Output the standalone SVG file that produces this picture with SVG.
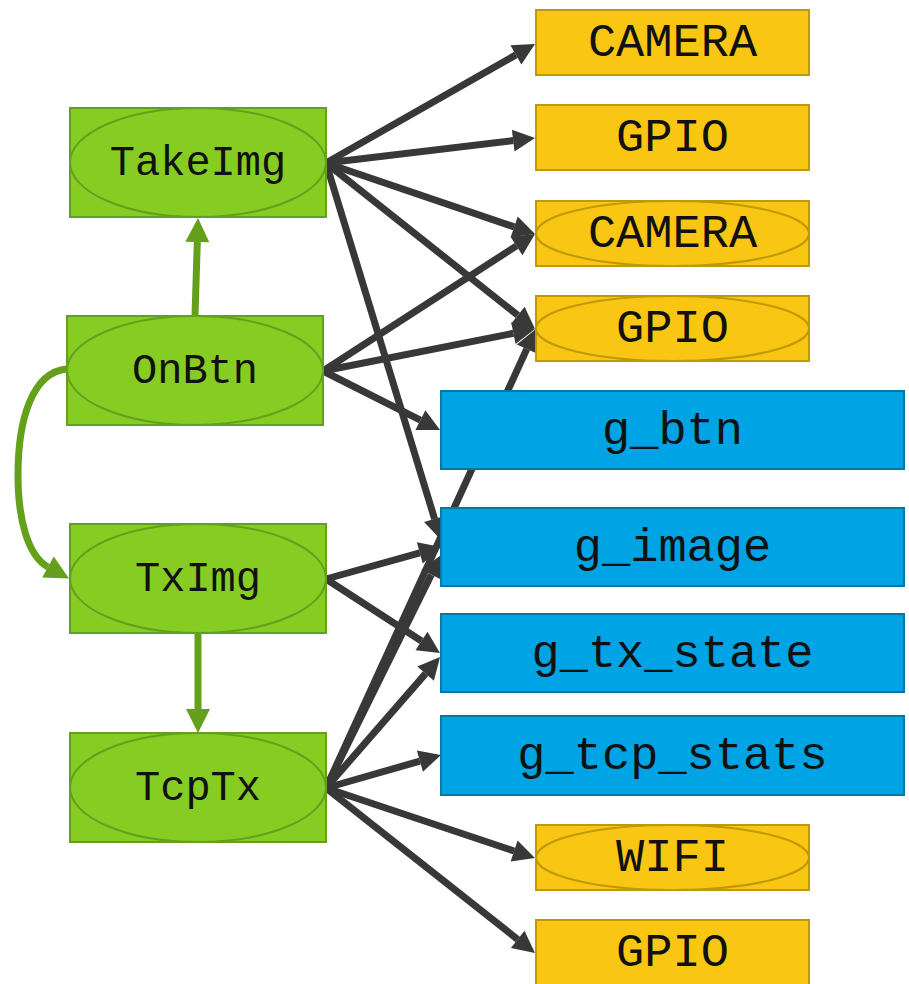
<svg xmlns="http://www.w3.org/2000/svg" width="909" height="984" viewBox="0 0 909 984">
  <style>
    .lbl { font-family: "Liberation Mono", "Courier New", monospace; fill: #111; text-anchor: middle; }
    .g-lbl { font-size: 42px; }
    .o-lbl { font-size: 47px; }
    .task rect, .task ellipse { fill: #86cc22; stroke: #64a01c; stroke-width: 2; }
    .dev rect, .dev ellipse { fill: #f9c613; stroke: #bf9a06; stroke-width: 2; }
    .var rect { fill: #00a3e3; stroke: #0079a8; stroke-width: 2; }
    .e-dark { fill: none; stroke: #383838; stroke-width: 7; marker-end: url(#ah-dark); }
    .e-green { fill: none; stroke: #64a01c; stroke-width: 7; marker-end: url(#ah-green); }
  </style>
  <defs>
    <marker id="ah-dark" markerUnits="userSpaceOnUse" markerWidth="24" markerHeight="24" refX="0" refY="12" orient="auto" overflow="visible">
      <path d="M0,1 L22,12 L0,23 z" fill="#383838"/>
    </marker>
    <marker id="ah-green" markerUnits="userSpaceOnUse" markerWidth="26" markerHeight="26" refX="0" refY="12" orient="auto" overflow="visible">
      <path d="M0,0 L24,12 L0,24 z" fill="#64a01c"/>
    </marker>
  </defs>

  <g id="connectors">
    <!-- TakeImg -->
    <path class="e-dark" d="M326,163 L515.9,54.9"/>
    <path class="e-dark" d="M326,163 L513.2,140.6"/>
    <path class="e-dark" d="M326,163 L514.2,226.9"/>
    <path class="e-dark" d="M326,163 L517.8,315.3"/>
    <path class="e-dark" d="M326,163 L434.6,518.9"/>
    <!-- OnBtn -->
    <path class="e-dark" d="M323,371 L516.5,245.9"/>
    <path class="e-dark" d="M323,371 L513.4,333.3"/>
    <path class="e-dark" d="M323,371 L420.4,420.1"/>
    <!-- TxImg -->
    <path class="e-dark" d="M326,579 L419.8,552.9"/>
    <path class="e-dark" d="M326,579 L421.5,641.0"/>
    <!-- TcpTx -->
    <path class="e-dark" d="M326,788 L431.3,574.7"/>
    <path class="e-dark" d="M326,788 L526.8,349.0"/>
    <path class="e-dark" d="M326,788 L425.6,673.6"/>
    <path class="e-dark" d="M326,788 L419.9,761.1"/>
    <path class="e-dark" d="M326,788 L514.1,851.0"/>
    <path class="e-dark" d="M326,788 L517.7,939.4"/>
    <!-- task to task -->
    <path class="e-green" d="M195,316 L197.3,242"/>
    <path class="e-green" d="M198,633 L198,709"/>
    <path class="e-green" d="M67,369 C32,372 18,420 18,475 C18,520 28,556 48,567"/>
  </g>

  <g id="TakeImg" class="task">
    <rect x="70" y="108" width="256" height="109"/>
    <ellipse cx="198" cy="162.5" rx="128" ry="54.5"/>
    <text class="lbl g-lbl" x="198" y="175">TakeImg</text>
  </g>
  <g id="OnBtn" class="task">
    <rect x="67" y="316" width="256" height="109"/>
    <ellipse cx="195" cy="370.5" rx="128" ry="54.5"/>
    <text class="lbl g-lbl" x="195" y="383">OnBtn</text>
  </g>
  <g id="TxImg" class="task">
    <rect x="70" y="524" width="256" height="109"/>
    <ellipse cx="198" cy="578.5" rx="128" ry="54.5"/>
    <text class="lbl g-lbl" x="198" y="591">TxImg</text>
  </g>
  <g id="TcpTx" class="task">
    <rect x="70" y="733" width="256" height="109"/>
    <ellipse cx="198" cy="787.5" rx="128" ry="54.5"/>
    <text class="lbl g-lbl" x="198" y="800">TcpTx</text>
  </g>

  <g id="CAMERA_1" class="dev">
    <rect x="536" y="10" width="273" height="65"/>
    <text class="lbl o-lbl" x="672.5" y="56">CAMERA</text>
  </g>
  <g id="GPIO_1" class="dev">
    <rect x="536" y="105" width="273" height="65"/>
    <text class="lbl o-lbl" x="672.5" y="151">GPIO</text>
  </g>
  <g id="CAMERA_2" class="dev">
    <rect x="536" y="201" width="273" height="65"/>
    <ellipse cx="672.5" cy="233.5" rx="136.5" ry="32.5"/>
    <text class="lbl o-lbl" x="672.5" y="247">CAMERA</text>
  </g>
  <g id="GPIO_2" class="dev">
    <rect x="536" y="296" width="273" height="65"/>
    <ellipse cx="672.5" cy="328.5" rx="136.5" ry="32.5"/>
    <text class="lbl o-lbl" x="672.5" y="342">GPIO</text>
  </g>
  <g id="WIFI" class="dev">
    <rect x="536" y="825" width="273" height="65"/>
    <ellipse cx="672.5" cy="857.5" rx="136.5" ry="32.5"/>
    <text class="lbl o-lbl" x="672.5" y="871">WIFI</text>
  </g>
  <g id="GPIO_3" class="dev">
    <rect x="536" y="920" width="273" height="65"/>
    <text class="lbl o-lbl" x="672.5" y="966">GPIO</text>
  </g>

  <g id="g_btn" class="var">
    <rect x="441" y="391" width="463" height="78"/>
    <text class="lbl o-lbl" x="672.5" y="444">g_btn</text>
  </g>
  <g id="g_image" class="var">
    <rect x="441" y="508" width="463" height="78"/>
    <text class="lbl o-lbl" x="672.5" y="561">g_image</text>
  </g>
  <g id="g_tx_state" class="var">
    <rect x="441" y="614" width="463" height="78"/>
    <text class="lbl o-lbl" x="672.5" y="667">g_tx_state</text>
  </g>
  <g id="g_tcp_stats" class="var">
    <rect x="441" y="716" width="463" height="79"/>
    <text class="lbl o-lbl" x="672.5" y="769">g_tcp_stats</text>
  </g>
</svg>
